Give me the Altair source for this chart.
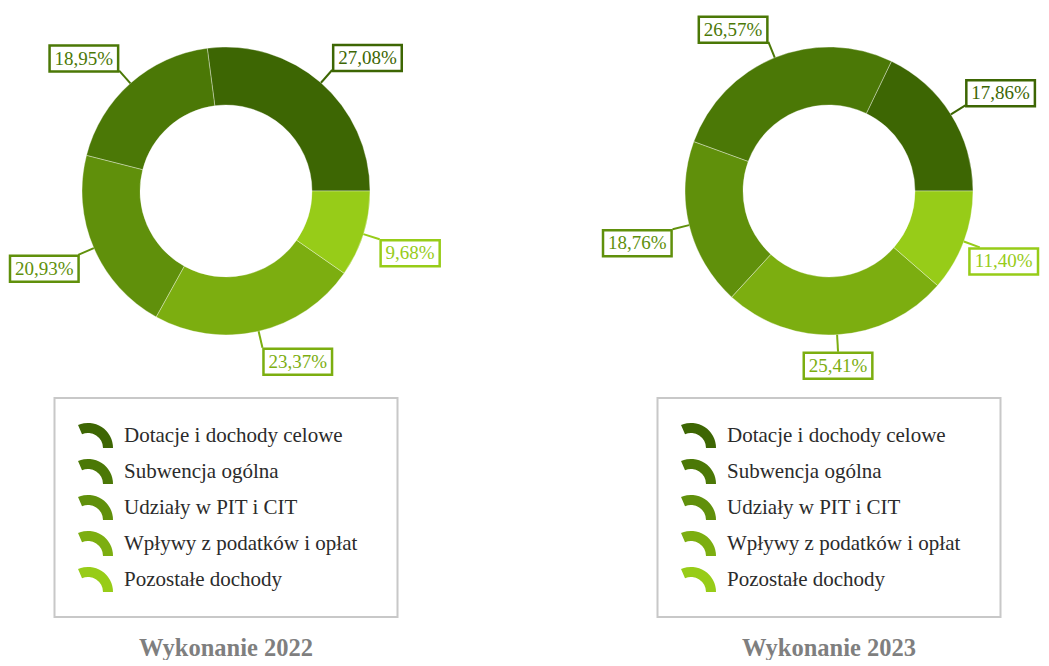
import math
import altair as alt
import pandas as pd

# ---------------- data ----------------
categories = [
    "Dotacje i dochody celowe",
    "Subwencja ogólna",
    "Udziały w PIT i CIT",
    "Wpływy z podatków i opłat",
    "Pozostałe dochody",
]
values_2022 = [27.08, 18.95, 20.93, 23.37, 9.68]
values_2023 = [17.86, 26.57, 18.76, 25.41, 11.40]
years = ["2022", "2023"]
titles = ["Wykonanie 2022", "Wykonanie 2023"]
colors = ["#3d6603", "#4b7806", "#60900b", "#7cae10", "#97cc18"]

# ---------------- layout / style ----------------
W, H = 1033, 652
CX0, DX, CY = 218, 603, 183
R_OUT, R_IN, R_LINE = 144, 86, 161
FS_LABEL = 19
BH = 26
FONT = "Liberation Serif, Times New Roman, serif"

series = [values_2022, values_2023]
rows = []
for p, vals in enumerate(series):
    for k, (cat, v) in enumerate(zip(categories, vals)):
        rows.append({"panel": p, "year": years[p], "k": k, "category": cat, "value": v})
slices = pd.DataFrame(rows)

legend_rows = []
for p in range(len(years)):
    for k, cat in enumerate(categories):
        legend_rows.append({"panel": p, "k": k, "category": cat})
legend_df = pd.DataFrame(legend_rows)

panels = pd.DataFrame({"panel": list(range(len(years))), "title": titles})

color_scale = alt.Scale(domain=categories, range=colors)

def px(field):
    return alt.X(f"{field}:Q", scale=None, axis=None)

def py(field):
    return alt.Y(f"{field}:Q", scale=None, axis=None)

base = (
    alt.Chart(slices)
    .transform_joinaggregate(total="sum(value)", groupby=["panel"])
    .transform_window(cum="sum(value)", groupby=["panel"], sort=[alt.SortField("k")], frame=[None, 0])
    .transform_calculate(
        ps="2*PI*(datum.cum - datum.value)/datum.total",
        pe="2*PI*datum.cum/datum.total",
    )
    .transform_calculate(
        t1="5*PI/2 - datum.pe",
        t2="5*PI/2 - datum.ps",
        pm="(datum.ps + datum.pe)/2",
        cx=f"{CX0} + datum.panel*{DX}",
        cy=f"{CY}",
    )
    .transform_calculate(
        c="cos(datum.pm)",
        s="sin(datum.pm)",
    )
    .transform_calculate(
        sx=f"datum.cx + {R_OUT}*datum.c",
        sy=f"datum.cy - {R_OUT}*datum.s",
        ex=f"datum.cx + {R_LINE}*datum.c",
        ey=f"datum.cy - {R_LINE}*datum.s",
        label="replace(format(datum.value, '.2f'), '.', ',') + '%'",
    )
    .transform_calculate(
        bw=f"((length(datum.label) - 2)*0.5 + 1.083)*{FS_LABEL} + 10",
        anc="datum.c > 0.15 ? 0 : (datum.c < -0.15 ? 1 : 0.5)",
    )
    .transform_calculate(
        bx0="datum.ex + 1 - datum.anc*(datum.bw + 2)",
        by1=f"datum.s > 0 ? datum.ey + 1 - {BH} : datum.ey + 1",
    )
    .transform_calculate(
        bx1=f"max(2, min(datum.bx0, {W} - 3 - datum.bw))",
    )
    .transform_calculate(
        bx2="datum.bx1 + datum.bw",
        by2=f"datum.by1 + {BH}",
    )
    .transform_calculate(
        tx="(datum.bx1 + datum.bx2)/2",
        ty="(datum.by1 + datum.by2)/2",
    )
)

arcs = base.mark_arc(
    innerRadius=R_IN, outerRadius=R_OUT, stroke="#ffffff", strokeWidth=1, strokeOpacity=0.35
).encode(
    theta=alt.Theta("t1:Q", scale=None),
    theta2="t2:Q",
    x=px("cx"),
    y=py("cy"),
    color=alt.Color("category:N", scale=color_scale, legend=None),
)

connectors = base.mark_rule(strokeWidth=2).encode(
    x=px("sx"), y=py("sy"), x2="ex:Q", y2="ey:Q",
    color=alt.Color("category:N", scale=color_scale, legend=None),
)

boxes = base.mark_rect(fill="white", strokeWidth=2.5).encode(
    x=px("bx1"), x2="bx2:Q", y=py("by1"), y2="by2:Q",
    stroke=alt.Stroke("category:N", scale=color_scale, legend=None),
)

labels = base.mark_text(font=FONT, fontSize=FS_LABEL, align="center", baseline="middle").encode(
    x=px("tx"), y=py("ty"), text="label:N",
    color=alt.Color("category:N", scale=color_scale, legend=None),
)

legend_box = (
    alt.Chart(panels)
    .transform_calculate(cx=f"{CX0} + datum.panel*{DX}")
    .transform_calculate(lx1="datum.cx - 171.5", lx2="datum.cx + 171.5", ly1="390", ly2="609")
    .mark_rect(fill="white", stroke="#c8c8c8", strokeWidth=2)
    .encode(x=px("lx1"), x2="lx2:Q", y=py("ly1"), y2="ly2:Q")
)

leg_base = (
    alt.Chart(legend_df)
    .transform_calculate(cx=f"{CX0} + datum.panel*{DX}")
    .transform_calculate(
        symx="datum.cx - 138",
        symy="440 + 36*datum.k",
        tx="datum.cx - 102",
        ty="434 + 36*datum.k",
    )
)

leg_sym = leg_base.mark_arc(innerRadius=15, outerRadius=25).encode(
    x=px("symx"), y=py("symy"),
    theta=alt.value(2 * math.pi - 0.41),
    theta2=alt.value(2 * math.pi + math.pi / 2),
    color=alt.Color("category:N", scale=color_scale, legend=None),
)

leg_text = leg_base.mark_text(
    font=FONT, fontSize=21, align="left", baseline="alphabetic", color="#2b2b2b"
).encode(x=px("tx"), y=py("ty"), text="category:N")

title_text = (
    alt.Chart(panels)
    .transform_calculate(cx=f"{CX0} + datum.panel*{DX}", ty="648")
    .mark_text(font=FONT, fontSize=24.5, fontWeight="bold", align="center", baseline="alphabetic", color="#7f7f7f")
    .encode(x=px("cx"), y=py("ty"), text="title:N")
)

chart = (
    alt.layer(arcs, connectors, boxes, labels, legend_box, leg_sym, leg_text, title_text)
    .properties(width=W, height=H, padding=0, autosize=alt.AutoSizeParams(type="none"))
    .configure_view(stroke=None)
)

chart.save("out.html", embed_options={"renderer": "svg", "actions": False})
